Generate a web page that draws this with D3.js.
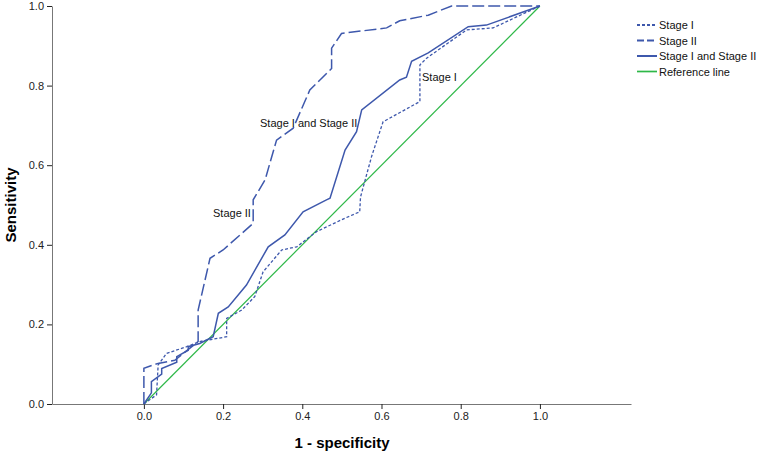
<!DOCTYPE html>
<html>
<head>
<meta charset="utf-8">
<script src="https://cdn.jsdelivr.net/npm/d3@7"></script>
<style>
    body { margin: 0; background: #fff; }
    text { font-family: Arial, "Liberation Sans", sans-serif; }
    .axis path { stroke: #777; }
    .axis line { stroke: #222; }
    .axis text { font-size: 11px; fill: #222; }
</style>
</head>
<body>
<script>
// roc curve points, [1 - specificity, sensitivity]
var stageOne = [[0, 0], [0.032, 0.023], [0.036, 0.098], [0.057, 0.127], [0.108, 0.144], [0.141, 0.157],
    [0.209, 0.169], [0.209, 0.215], [0.247, 0.236], [0.28, 0.27], [0.301, 0.332], [0.348, 0.387],
    [0.386, 0.395], [0.436, 0.433], [0.508, 0.467], [0.545, 0.483], [0.547, 0.52], [0.575, 0.622],
    [0.604, 0.709], [0.697, 0.76], [0.697, 0.852], [0.714, 0.869], [0.815, 0.94], [0.882, 0.945], [1, 1]];

var stageTwo = [[0, 0], [0, 0.09], [0.036, 0.102], [0.078, 0.11], [0.137, 0.157], [0.137, 0.236],
    [0.167, 0.366], [0.2, 0.387], [0.276, 0.454], [0.276, 0.513], [0.306, 0.563], [0.335, 0.663],
    [0.377, 0.693], [0.419, 0.789], [0.474, 0.843], [0.474, 0.894], [0.499, 0.931], [0.613, 0.945],
    [0.646, 0.963], [0.718, 0.977], [0.777, 1], [1, 1]];

var stageBoth = [[0, 0], [0.019, 0.028], [0.019, 0.056], [0.045, 0.075], [0.045, 0.089], [0.083, 0.105],
    [0.083, 0.119], [0.112, 0.135], [0.112, 0.144], [0.141, 0.152], [0.175, 0.169], [0.188, 0.228],
    [0.213, 0.244], [0.259, 0.299], [0.314, 0.395], [0.356, 0.425], [0.402, 0.483], [0.461, 0.513],
    [0.47, 0.517], [0.508, 0.638], [0.537, 0.684], [0.55, 0.739], [0.646, 0.814], [0.663, 0.821],
    [0.676, 0.861], [0.718, 0.882], [0.819, 0.948], [0.865, 0.952], [1, 1]];

var referenceLine = [[0, 0], [1, 1]];

var tickValues = [0, 0.2, 0.4, 0.6, 0.8, 1.0];

var width = 759,
    height = 457,
    blue = "#3e58ac",
    green = "#2eb848",
    x = d3.scaleLinear().range([52, 631]).domain([-0.232, 1.23]),
    y = d3.scaleLinear().range([404, 6]).domain([0, 1]);

var series = [
    { name: "Stage I", points: stageOne, colour: blue, dash: "3,2", size: 1.3, tag: [422, 81] },
    { name: "Stage II", points: stageTwo, colour: blue, dash: "12,4", size: 1.5, tag: [213, 217] },
    { name: "Stage I and Stage II", points: stageBoth, colour: blue, dash: null, size: 1.5, tag: [260, 127] },
    { name: "Reference line", points: referenceLine, colour: green, dash: null, size: 1.2, tag: null }
];

var figure = d3.select("body")
    .append("svg")
        .attr("width", width)
        .attr("height", height);

var line = d3.line()
    .x(function(d) { return x(d[0]); })
    .y(function(d) { return y(d[1]); });

// axes
figure.append("g")
    .attr("class", "axis")
    .attr("transform", "translate(0," + y(0) + ")")
    .call(d3.axisBottom(x)
        .tickValues(tickValues)
        .tickSizeInner(5)
        .tickSizeOuter(0)
        .tickFormat(d3.format(".1f")));

figure.append("g")
    .attr("class", "axis")
    .attr("transform", "translate(" + x.range()[0] + ",0)")
    .call(d3.axisLeft(y)
        .tickValues(tickValues)
        .tickSizeInner(5)
        .tickSizeOuter(0)
        .tickFormat(d3.format(".1f")));

// curves, reference first so it sits below
figure.append("g")
    .selectAll("path")
    .data(series.slice().reverse())
    .enter()
    .append("path")
    .attr("d", function(d) { return line(d.points); })
    .attr("fill", "none")
    .attr("stroke", function(d) { return d.colour; })
    .attr("stroke-width", function(d) { return d.size; })
    .attr("stroke-dasharray", function(d) { return d.dash; });

// labels on the curves
figure.append("g")
    .selectAll("text")
    .data(series.filter(function(d) { return d.tag; }))
    .enter()
    .append("text")
    .attr("x", function(d) { return d.tag[0]; })
    .attr("y", function(d) { return d.tag[1]; })
    .attr("font-size", "11px")
    .attr("fill", "#111")
    .text(function(d) { return d.name; });

// axis titles
figure.append("text")
    .attr("x", 342)
    .attr("y", 448)
    .attr("text-anchor", "middle")
    .attr("font-size", "15px")
    .attr("font-weight", "bold")
    .text("1 - specificity");

figure.append("text")
    .attr("transform", "translate(16,205) rotate(-90)")
    .attr("text-anchor", "middle")
    .attr("font-size", "15px")
    .attr("font-weight", "bold")
    .text("Sensitivity");

// legend
var legend = figure.append("g")
    .selectAll("g")
    .data(series)
    .enter()
    .append("g")
    .attr("transform", function(d, i) { return "translate(637," + (25 + i * 15.5) + ")"; });

legend.append("line")
    .attr("x1", 0)
    .attr("x2", 20)
    .attr("stroke", function(d) { return d.colour; })
    .attr("stroke-width", function(d) { return d.size + 0.5; })
    .attr("stroke-dasharray", function(d) { return d.dash ? (d.dash == "3,2" ? "3,2" : "7,3") : null; });

legend.append("text")
    .attr("x", 22)
    .attr("y", 4)
    .attr("font-size", "11px")
    .attr("fill", "#111")
    .text(function(d) { return d.name; });
</script>
</body>
</html>
